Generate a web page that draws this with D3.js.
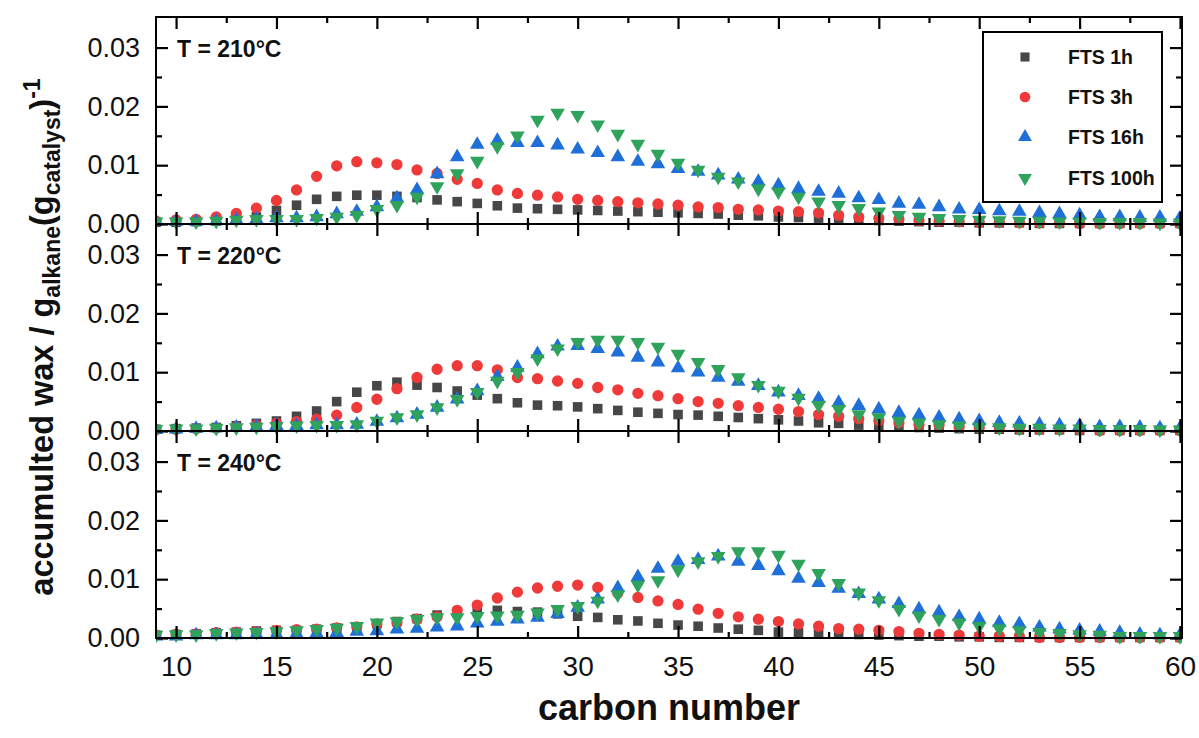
<!DOCTYPE html>
<html><head><meta charset="utf-8">
<script src="https://cdn.jsdelivr.net/npm/d3@7"></script>
<style>html,body{margin:0;padding:0;background:#fff;} svg{display:block;font-family:"Liberation Sans",Arial,Helvetica,sans-serif;}</style>
</head><body><svg id="chart" width="1199" height="738"></svg>
<script>
// ---------------- data ----------------
const carbonNumbers = [9,10,11,12,13,14,15,16,17,18,19,20,21,22,23,24,25,26,27,28,29,30,31,32,33,34,35,36,37,38,39,40,41,42,43,44,45,46,47,48,49,50,51,52,53,54,55,56,57,58,59,60];
const seriesNames = ["FTS 1h", "FTS 3h", "FTS 16h", "FTS 100h"];
const panelLabels = ["T = 210°C", "T = 220°C", "T = 240°C"];
const xTickValues = [10,15,20,25,30,35,40,45,50,55,60];
const xMinorTicks = [12.5,17.5,22.5,27.5,32.5,37.5,42.5,47.5,52.5,57.5];
const yTickValues = [0, 0.01, 0.02, 0.03];
const yMinorTicks = [0.005, 0.015, 0.025];

// T = 210 °C
const fts1h_210 = [0.0003,0.0003,0.0004,0.0005,0.0007,0.0012,0.0023,0.0032,0.0042,0.0047,0.0049,0.0049,0.0047,0.0045,0.0041,0.0038,0.0035,0.0031,0.0027,0.0026,0.0025,0.0024,0.0023,0.0022,0.0021,0.0020,0.0019,0.0018,0.0017,0.0015,0.0014,0.0012,0.0011,0.0010,0.0008,0.0007,0.0006,0.0005,0.0004,0.0003,0.0003,0.0002,0.0002,0.0002,0.0001,0.0001,0.0001,0.0001,0.0001,0.0001,0.0001,0.0001];
const fts3h_210 = [0.0005,0.0007,0.0008,0.0012,0.0018,0.0027,0.0040,0.0058,0.0081,0.0099,0.0106,0.0104,0.0101,0.0092,0.0086,0.0076,0.0069,0.0058,0.0052,0.0049,0.0046,0.0042,0.0040,0.0038,0.0036,0.0034,0.0032,0.0029,0.0028,0.0025,0.0024,0.0022,0.0021,0.0019,0.0015,0.0012,0.0010,0.0008,0.0006,0.0005,0.0004,0.0003,0.0003,0.0002,0.0002,0.0002,0.0001,0.0001,0.0001,0.0001,0.0001,0.0001];
const fts16h_210 = [0.0004,0.0004,0.0004,0.0005,0.0007,0.0008,0.0010,0.0010,0.0012,0.0017,0.0021,0.0029,0.0044,0.0058,0.0085,0.0114,0.0135,0.0142,0.0138,0.0138,0.0134,0.0127,0.0121,0.0114,0.0106,0.0102,0.0094,0.0089,0.0083,0.0076,0.0072,0.0066,0.0060,0.0055,0.0052,0.0044,0.0041,0.0035,0.0033,0.0029,0.0025,0.0024,0.0022,0.0021,0.0019,0.0017,0.0015,0.0012,0.0012,0.0011,0.0011,0.0010];
const fts100h_210 = [0.0004,0.0004,0.0004,0.0005,0.0007,0.0008,0.0008,0.0008,0.0010,0.0012,0.0015,0.0025,0.0032,0.0046,0.0064,0.0086,0.0107,0.0132,0.0150,0.0177,0.0189,0.0185,0.0169,0.0153,0.0136,0.0119,0.0104,0.0092,0.0080,0.0072,0.0060,0.0055,0.0046,0.0038,0.0032,0.0027,0.0021,0.0015,0.0012,0.0010,0.0008,0.0007,0.0006,0.0005,0.0005,0.0004,0.0004,0.0003,0.0003,0.0003,0.0002,0.0002];

// T = 220 °C
const fts1h_220 = [0.0003,0.0004,0.0005,0.0006,0.0009,0.0013,0.0017,0.0025,0.0034,0.0050,0.0066,0.0077,0.0083,0.0078,0.0074,0.0068,0.0061,0.0055,0.0048,0.0044,0.0043,0.0041,0.0038,0.0035,0.0032,0.0030,0.0028,0.0027,0.0025,0.0023,0.0021,0.0019,0.0017,0.0014,0.0013,0.0010,0.0009,0.0007,0.0006,0.0005,0.0004,0.0003,0.0003,0.0002,0.0002,0.0002,0.0001,0.0001,0.0001,0.0001,0.0001,0.0001];
const fts3h_220 = [0.0002,0.0003,0.0004,0.0005,0.0007,0.0010,0.0013,0.0016,0.0020,0.0027,0.0040,0.0054,0.0072,0.0091,0.0105,0.0111,0.0111,0.0104,0.0091,0.0089,0.0085,0.0081,0.0074,0.0070,0.0064,0.0060,0.0055,0.0050,0.0047,0.0043,0.0040,0.0037,0.0033,0.0028,0.0025,0.0021,0.0018,0.0014,0.0011,0.0010,0.0007,0.0006,0.0005,0.0004,0.0003,0.0003,0.0002,0.0001,0.0001,0.0001,0.0001,0.0001];
const fts16h_220 = [0.0002,0.0003,0.0004,0.0005,0.0006,0.0007,0.0009,0.0009,0.0010,0.0010,0.0011,0.0016,0.0022,0.0028,0.0040,0.0054,0.0068,0.0092,0.0108,0.0131,0.0144,0.0145,0.0140,0.0134,0.0125,0.0117,0.0107,0.0100,0.0091,0.0084,0.0077,0.0066,0.0060,0.0055,0.0048,0.0043,0.0037,0.0031,0.0027,0.0023,0.0020,0.0017,0.0014,0.0013,0.0011,0.0010,0.0009,0.0007,0.0007,0.0006,0.0005,0.0005];
const fts100h_220 = [0.0003,0.0004,0.0004,0.0005,0.0006,0.0007,0.0008,0.0009,0.0010,0.0010,0.0011,0.0017,0.0023,0.0028,0.0040,0.0054,0.0066,0.0085,0.0100,0.0123,0.0140,0.0151,0.0155,0.0155,0.0151,0.0143,0.0131,0.0117,0.0105,0.0091,0.0078,0.0068,0.0056,0.0044,0.0037,0.0028,0.0023,0.0017,0.0014,0.0011,0.0009,0.0007,0.0006,0.0005,0.0005,0.0004,0.0004,0.0003,0.0003,0.0003,0.0002,0.0002];

// T = 240 °C
const fts1h_240 = [0.0005,0.0006,0.0007,0.0009,0.0010,0.0012,0.0013,0.0013,0.0015,0.0017,0.0019,0.0024,0.0028,0.0033,0.0039,0.0043,0.0045,0.0047,0.0045,0.0044,0.0041,0.0037,0.0035,0.0031,0.0029,0.0025,0.0022,0.0020,0.0017,0.0015,0.0013,0.0010,0.0009,0.0008,0.0007,0.0006,0.0005,0.0004,0.0003,0.0003,0.0002,0.0002,0.0001,0.0001,0.0001,0.0001,0.0001,0.0001,0.0001,0.0001,0.0001,0.0001];
const fts3h_240 = [0.0005,0.0006,0.0007,0.0009,0.0010,0.0011,0.0013,0.0014,0.0015,0.0017,0.0019,0.0024,0.0026,0.0032,0.0036,0.0047,0.0056,0.0068,0.0078,0.0085,0.0088,0.0090,0.0086,0.0076,0.0069,0.0063,0.0057,0.0049,0.0042,0.0036,0.0032,0.0028,0.0024,0.0020,0.0016,0.0015,0.0013,0.0011,0.0008,0.0006,0.0005,0.0003,0.0003,0.0002,0.0001,0.0001,0.0001,0.0001,0.0001,0.0001,0.0001,0.0001];
const fts16h_240 = [0.0003,0.0003,0.0005,0.0005,0.0005,0.0006,0.0006,0.0007,0.0008,0.0009,0.0011,0.0012,0.0015,0.0016,0.0018,0.0020,0.0025,0.0028,0.0032,0.0035,0.0041,0.0052,0.0066,0.0085,0.0104,0.0118,0.0130,0.0133,0.0139,0.0130,0.0123,0.0114,0.0101,0.0094,0.0084,0.0075,0.0066,0.0058,0.0049,0.0044,0.0036,0.0032,0.0026,0.0024,0.0018,0.0015,0.0013,0.0011,0.0009,0.0006,0.0005,0.0005];
const fts100h_240 = [0.0005,0.0006,0.0006,0.0008,0.0009,0.0010,0.0011,0.0013,0.0015,0.0017,0.0020,0.0026,0.0028,0.0032,0.0035,0.0035,0.0037,0.0038,0.0039,0.0043,0.0049,0.0054,0.0063,0.0074,0.0090,0.0098,0.0116,0.0130,0.0139,0.0147,0.0147,0.0141,0.0126,0.0110,0.0093,0.0077,0.0064,0.0049,0.0038,0.0032,0.0026,0.0020,0.0016,0.0013,0.0010,0.0008,0.0006,0.0005,0.0003,0.0003,0.0003,0.0003];

const panels = [
  [fts1h_210, fts3h_210, fts16h_210, fts100h_210],
  [fts1h_220, fts3h_220, fts16h_220, fts100h_220],
  [fts1h_240, fts3h_240, fts16h_240, fts100h_240]
];

// ---------------- layout & style ----------------
const W = 1199, H = 738;
const left = 156, right = 1182;
const panelTop = [17, 224, 431], panelH = 207;
const colors = ["#474747", "#f03a3a", "#1f6fd8", "#2fa35c"];
const shapes = [d3.symbolSquare, d3.symbolCircle, d3.symbolTriangle, d3.symbolTriangle];
const sizes = [92, 100, 92, 92];
const rotations = [0, 0, 0, 180];

const svg = d3.select("#chart");
const x = d3.scaleLinear().domain([9, 60.1]).range([left, right]);

svg.append("defs").append("clipPath").attr("id", "clipx")
  .append("rect").attr("x", left).attr("y", 0).attr("width", right - left).attr("height", H);

function styleAxis(g, fontSize) {
  g.select(".domain").remove();
  g.selectAll(".tick line").attr("stroke", "#000").attr("stroke-width", 2.2);
  g.selectAll(".tick text").attr("font-size", fontSize).attr("fill", "#111")
    .attr("font-family", '"Liberation Sans",Arial,sans-serif');
}

panels.forEach((series, i) => {
  const top = panelTop[i], bottom = top + panelH;
  const y = d3.scaleLinear().domain([0, 0.0352]).range([bottom, top]);
  const g = svg.append("g");

  // markers
  const mg = g.append("g").attr("clip-path", "url(#clipx)");
  series.forEach((vals, s) => {
    mg.append("g").selectAll("path").data(vals).join("path")
      .attr("d", d3.symbol(shapes[s], sizes[s]))
      .attr("transform", (d, k) => `translate(${x(carbonNumbers[k])},${y(d)}) rotate(${rotations[s]})`)
      .attr("fill", colors[s]);
  });

  // frame
  g.append("rect").attr("x", left).attr("y", top).attr("width", right - left).attr("height", panelH)
    .attr("fill", "none").attr("stroke", "#000").attr("stroke-width", 2);

  // left axis (labels)
  g.append("g").attr("transform", `translate(${left},0)`)
    .call(d3.axisLeft(y).tickValues(yTickValues).tickSizeInner(-12).tickSizeOuter(0).tickPadding(16).tickFormat(d3.format(".2f")))
    .call(a => styleAxis(a, 27));
  g.append("g").attr("transform", `translate(${left},0)`)
    .call(d3.axisLeft(y).tickValues(yMinorTicks).tickSizeInner(-6).tickSizeOuter(0).tickFormat(""))
    .call(a => styleAxis(a, 27));
  // right axis
  g.append("g").attr("transform", `translate(${right},0)`)
    .call(d3.axisRight(y).tickValues(yTickValues).tickSizeInner(-12).tickSizeOuter(0).tickFormat(""))
    .call(a => styleAxis(a, 27));
  g.append("g").attr("transform", `translate(${right},0)`)
    .call(d3.axisRight(y).tickValues(yMinorTicks).tickSizeInner(-6).tickSizeOuter(0).tickFormat(""))
    .call(a => styleAxis(a, 27));
  // top axis
  g.append("g").attr("transform", `translate(0,${top})`)
    .call(d3.axisTop(x).tickValues(xTickValues).tickSizeInner(-12).tickSizeOuter(0).tickFormat(""))
    .call(a => styleAxis(a, 27));
  g.append("g").attr("transform", `translate(0,${top})`)
    .call(d3.axisTop(x).tickValues(xMinorTicks).tickSizeInner(-6).tickSizeOuter(0).tickFormat(""))
    .call(a => styleAxis(a, 27));
  // bottom axis
  g.append("g").attr("transform", `translate(0,${bottom})`)
    .call(d3.axisBottom(x).tickValues(xTickValues).tickSizeInner(-12).tickSizeOuter(0).tickPadding(18)
      .tickFormat(i === 2 ? d3.format("d") : ""))
    .call(a => styleAxis(a, 28));
  g.append("g").attr("transform", `translate(0,${bottom})`)
    .call(d3.axisBottom(x).tickValues(xMinorTicks).tickSizeInner(-6).tickSizeOuter(0).tickFormat(""))
    .call(a => styleAxis(a, 28));

  // panel label
  g.append("text").attr("x", 177).attr("y", y(0.03) + 9)
    .attr("font-size", 23).attr("font-weight", "bold").attr("fill", "#111")
    .text(panelLabels[i]);
});

// legend
const lg = svg.append("g");
lg.append("rect").attr("x", 983).attr("y", 32).attr("width", 179).attr("height", 170)
  .attr("fill", "#fff").attr("stroke", "#000").attr("stroke-width", 2);
const legendY = [57, 97, 137, 178];
seriesNames.forEach((name, s) => {
  lg.append("path").attr("d", d3.symbol(shapes[s], sizes[s] * 0.9))
    .attr("transform", `translate(1025,${legendY[s]}) rotate(${rotations[s]})`)
    .attr("fill", colors[s]);
  lg.append("text").attr("x", 1068).attr("y", legendY[s]).attr("dy", "0.36em")
    .attr("font-size", 19.5).attr("font-weight", "bold").attr("fill", "#111").text(name);
});

// axis titles
svg.append("text").attr("x", (left + right) / 2).attr("y", 720).attr("text-anchor", "middle")
  .attr("font-size", 36).attr("font-weight", "bold").attr("fill", "#111").text("carbon number");

const yt = svg.append("text").attr("transform", "translate(53,337) rotate(-90)")
  .attr("text-anchor", "middle").attr("font-size", 32.5).attr("font-weight", "bold").attr("fill", "#111");
yt.append("tspan").text("accumulted wax / g");
yt.append("tspan").attr("font-size", 23).attr("dy", 7).text("alkane");
yt.append("tspan").attr("dy", -7).text("(g");
yt.append("tspan").attr("font-size", 23).attr("dy", 7).text("catalyst");
yt.append("tspan").attr("dy", -7).text(")");
yt.append("tspan").attr("font-size", 23).attr("dy", -13).text("-1");
</script>
</body></html>
